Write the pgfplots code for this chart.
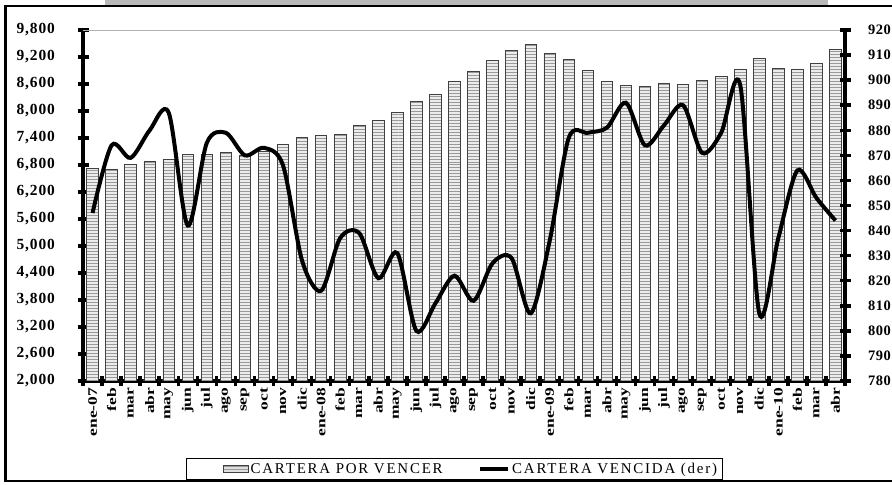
\documentclass[border=0pt]{standalone}
\usepackage{pgfplots}
\pgfplotsset{compat=1.18}
\usepackage{fontspec}
\setmainfont{Liberation Serif}
\usetikzlibrary{patterns}

\pgfplotstableread{
x bar line
0 6720 847
1 6710 874
2 6820 869
3 6880 880
4 6925 887
5 7035 842
6 7035 875
7 7080 879
8 7020 870
9 7100 873
10 7260 866
11 7420 828
12 7460 816
13 7480 837
14 7675 839
15 7800 821
16 7970 831
17 8205 800
18 8370 811
19 8660 822
20 8890 812
21 9120 827
22 9340 829
23 9475 807
24 9280 836
25 9140 877
26 8895 879
27 8665 881
28 8570 891
29 8550 874
30 8615 882
31 8595 890
32 8680 871
33 8770 879
34 8935 898
35 9170 807
36 8950 837
37 8935 864
38 9065 853
39 9370 844
}\datatable

\newcommand\tickfont{\bfseries\fontsize{15.5}{15.5}\selectfont\addfontfeatures{LetterSpace=6}}
\newcommand\rtickfont{\bfseries\fontsize{14.5}{14.5}\selectfont\addfontfeatures{LetterSpace=4}}

\begin{document}
\begin{tikzpicture}
\useasboundingbox (0bp,0bp) rectangle (892bp,485bp);
\fill[gray!55] (105bp,479bp) rectangle (828bp,485bp);
\draw[line width=2.5bp] (896bp,4bp) -- (5.5bp,4bp) -- (5.5bp,479bp) -- (896bp,479bp);

\begin{axis}[
  at={(83bp,104bp)}, anchor=south west,
  scale only axis, width=762bp, height=351bp,
  xmin=-0.5, xmax=39.5, ymin=2000, ymax=9800,
  axis x line*=bottom, axis y line*=left,
  axis line style={line width=3.5bp},
  xtick={-0.5,0.5,...,39.5},
  x tick label as interval,
  xticklabels={ene-07,feb,mar,abr,may,jun,jul,ago,sep,oct,nov,dic,ene-08,feb,mar,abr,may,jun,jul,ago,sep,oct,nov,dic,ene-09,feb,mar,abr,may,jun,jul,ago,sep,oct,nov,dic,ene-10,feb,mar,abr},
  xticklabel style={rotate=90, anchor=east, font=\bfseries\fontsize{13}{13}\selectfont\addfontfeatures{FakeStretch=1.35}, inner sep=1bp},
  ytick={2000,2600,...,9800},
  scaled y ticks=false,
  yticklabel style={font=\tickfont, /pgf/number format/1000 sep={,}, xshift=-19bp},
  /pgf/number format/assume math mode=true,
  tick align=center, major tick length=11bp,
  tick style={line width=3.5bp, black},
  legend style={at={(0.4875,-0.2507)}, anchor=center, draw=black, line width=0.8bp,
    font=\fontsize{15}{15}\selectfont\addfontfeatures{LetterSpace=12}, inner xsep=3bp, inner ysep=2.5bp,
    /tikz/every even column/.append style={column sep=34bp}},
  legend columns=2,
  after end axis/.code={\draw[gray!60, line width=0.8bp] (rel axis cs:0,1) -- (rel axis cs:1,1);},
]
\addplot[ybar, bar width=11.5bp, fill=gray!15, draw=black!75, line width=0.8bp,
  postaction={pattern=horizontal lines, pattern color=gray!80},
  legend image code/.code={\path (-33bp,0bp); \draw[fill=gray!25, draw=black!75, line width=0.8bp] (0bp,-3bp) rectangle (25bp,3.5bp);}]
  table[x=x, y=bar] {\datatable};
\addlegendentry{CARTERA POR VENCER}
\addlegendimage{legend image code/.code={\draw[black, line width=3.5bp] (0bp,0bp) -- (28bp,0bp);}}
\addlegendentry{CARTERA VENCIDA (der)}
\end{axis}

\begin{axis}[
  at={(83bp,104bp)}, anchor=south west,
  scale only axis, width=762bp, height=351bp,
  xmin=-0.5, xmax=39.5, ymin=780, ymax=920,
  axis y line*=right, hide x axis,
  axis line style={line width=3.5bp},
  ytick={780,790,...,920},
  yticklabel style={font=\rtickfont, xshift=14bp},
  /pgf/number format/assume math mode=true,
  tick align=center, major tick length=11bp,
  tick style={line width=3.5bp, black},
]
\addplot[black, line width=4bp, smooth, tension=0.5] table[x=x, y=line] {\datatable};
\end{axis}
\end{tikzpicture}
\end{document}
